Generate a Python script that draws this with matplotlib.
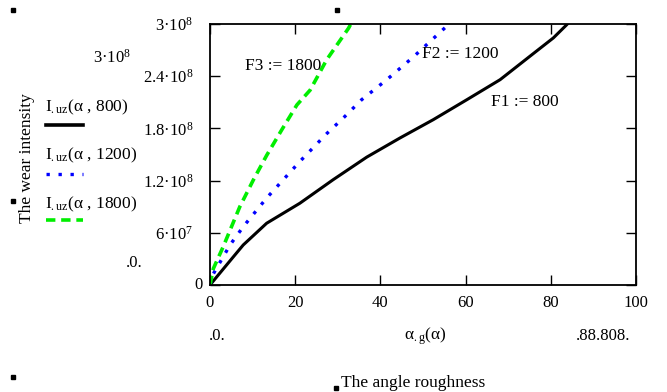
import matplotlib
matplotlib.use("Agg")
import matplotlib.pyplot as plt
from matplotlib.lines import Line2D
from matplotlib.patches import Rectangle

plt.rcParams["font.family"] = ["Liberation Serif", "DejaVu Serif"]
plt.rcParams["mathtext.fontset"] = "custom"
plt.rcParams["mathtext.rm"] = "Liberation Serif"
plt.rcParams["mathtext.it"] = "Liberation Serif:italic"

# wear intensity vs angle roughness
alpha_800 = [0, 5.5, 7.8, 13.3, 21.1, 28.9, 36.8, 44.6, 52.4, 60.3, 68.1, 75.9, 80.6, 83.7, 85.0]
wear_800 = [0, 0.325e8, 0.46e8, 0.71e8, 0.94e8, 1.21e8, 1.47e8, 1.69e8, 1.90e8, 2.13e8, 2.36e8, 2.66e8, 2.84e8, 2.99e8, 3.06e8]

alpha_1200 = [0, 0.8, 4.7, 7.8, 13.3, 17.2, 21.1, 27.4, 31.3, 35.6, 41.5, 47.7, 55.9, 57.0]
wear_1200 = [0, 0.13e8, 0.46e8, 0.67e8, 1.0e8, 1.21e8, 1.42e8, 1.74e8, 1.92e8, 2.13e8, 2.36e8, 2.62e8, 2.99e8, 3.05e8]

alpha_1800 = [0, 0.8, 3.1, 7.0, 10.2, 13.3, 16.8, 20.4, 23.5, 27.4, 32.5, 33.5]
wear_1800 = [0, 0.19e8, 0.44e8, 0.9e8, 1.21e8, 1.49e8, 1.78e8, 2.07e8, 2.24e8, 2.59e8, 2.95e8, 3.04e8]

x_ticks = [0, 20, 40, 60, 80, 100]
y_ticks = [0, 6e7, 1.2e8, 1.8e8, 2.4e8, 3e8]
y_labels = ["", "6·10$^{7}$", "1.2·10$^{8}$", "1.8·10$^{8}$", "2.4·10$^{8}$", "3·10$^{8}$"]

W, H = 667, 392
fig = plt.figure(figsize=(W / 100, H / 100), dpi=100)
ax = fig.add_axes([210 / W, 1 - 285 / H, 426 / W, 261 / H])

ax.plot(alpha_800, wear_800, color="black", lw=2.2, solid_capstyle="butt")
ax.plot(alpha_1200, wear_1200, color="#0000ff", lw=2.4, linestyle=(0, (1, 2.6)))
ax.plot(alpha_1800, wear_1800, color="#00ee00", lw=2.6, linestyle=(0, (2.6, 1.6)))

ax.set_xlim(0, 100)
ax.set_ylim(0, 3e8)
ax.set_xticks(x_ticks)
ax.set_xticklabels([str(v) for v in x_ticks])
ax.set_yticks(y_ticks)
ax.set_yticklabels(y_labels)
ax.tick_params(direction="in", length=7.5, width=1, top=True, right=True,
               labelsize=12, colors="black")
ax.tick_params(axis="y", pad=12)
ax.tick_params(axis="x", pad=7)
for s in ax.spines.values():
    s.set_linewidth(1.3)

# curve annotations
ax.text(8.3, 2.52e8, "F3 := 1800", fontsize=12.5, ha="left", va="center")
ax.text(58.7, 2.65e8, "F2 := 1200", fontsize=12.5, ha="center", va="center")
ax.text(73.9, 2.10e8, "F1 := 800", fontsize=12.5, ha="center", va="center")


def fx(px):
    return px / W


def fy(py):
    return 1 - py / H


# zero of the y axis sits closer to the axis than the other labels
fig.text(fx(203), fy(285), "0", fontsize=12, ha="right", va="center")

# y axis title and Mathcad limit labels
fig.text(fx(27), fy(158), "The wear intensity", rotation=90, fontsize=12.5,
         ha="center", va="center")
fig.text(fx(112), fy(58), "3·10$^{8}$", fontsize=12, ha="center", va="center")
fig.text(fx(134), fy(263), ".0.", fontsize=12, ha="center", va="center")

# legend
legend_rows = [
    ("I$_{\\rm .uz}$(α , 800)", "black", "-", 2.6, 107, 125),
    ("I$_{\\rm .uz}$(α , 1200)", "#0000ff", (0, (1, 2.6)), 2.4, 155, 174),
    ("I$_{\\rm .uz}$(α , 1800)", "#00ee00", (0, (2.6, 1.6)), 2.6, 204, 220),
]
for label, col, ls, lw, ty, ly in legend_rows:
    fig.text(fx(45), fy(ty), label, fontsize=12.5, ha="left", va="center")
    fig.add_artist(Line2D([fx(46), fx(83)], [fy(ly), fy(ly)], color=col,
                          linestyle=ls, lw=lw, transform=fig.transFigure))

# x axis title and limit labels
fig.text(fx(217), fy(336), ".0.", fontsize=12, ha="center", va="center")
fig.text(fx(425), fy(336), "α$_{\\rm .g}$(α)", fontsize=12.5, ha="center", va="center")
fig.text(fx(603), fy(336), ".88.808.", fontsize=12, ha="center", va="center")
fig.text(fx(413), fy(383), "The angle roughness", fontsize=12.5, ha="center", va="center")

# small Mathcad region anchors
for px, py in [(13, 10), (13, 201), (13, 377), (337, 10), (336, 388)]:
    fig.add_artist(Rectangle((fx(px - 2), fy(py + 2)), 4 / W, 4 / H,
                             color="black", transform=fig.transFigure))

fig.savefig("out.png", dpi=100)
